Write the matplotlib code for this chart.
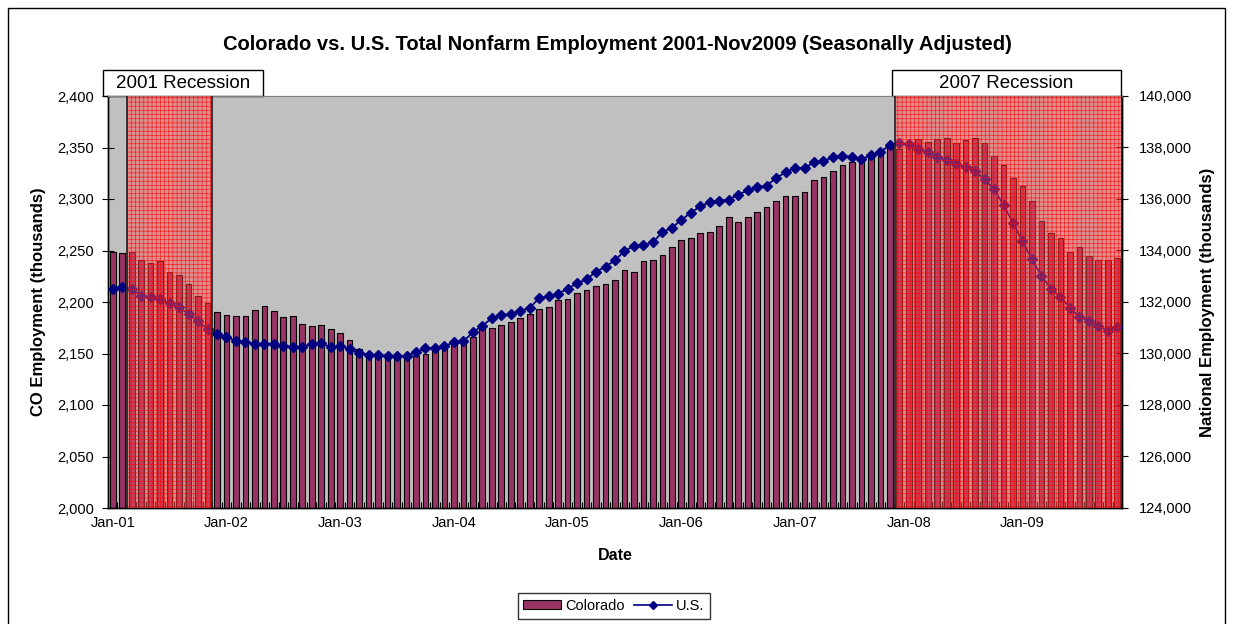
import numpy as np
import pandas as pd
import matplotlib
matplotlib.use("Agg")
import matplotlib.pyplot as plt
from matplotlib.patches import Rectangle, Patch
from matplotlib.lines import Line2D
from matplotlib.ticker import FuncFormatter, FixedLocator

plt.rcParams['font.family'] = ['Liberation Sans', 'DejaVu Sans']
plt.rcParams['hatch.linewidth'] = 0.5

# monthly data, Jan 2001 - Nov 2009 (thousands, seasonally adjusted)
months = pd.date_range('2001-01-01', periods=107, freq='MS')

co_emp = [
    2249, 2248, 2249, 2241, 2238, 2240, 2229, 2226, 2217, 2206, 2199, 2190,  # 2001
    2187, 2186, 2186, 2192, 2196, 2191, 2185, 2186, 2179, 2177, 2178, 2174,  # 2002
    2170, 2163, 2154, 2148, 2147, 2147, 2146, 2147, 2148, 2150, 2153, 2155,  # 2003
    2160, 2164, 2166, 2174, 2175, 2178, 2181, 2184, 2188, 2193, 2195, 2202,  # 2004
    2203, 2209, 2212, 2216, 2217, 2221, 2231, 2229, 2240, 2241, 2246, 2253,  # 2005
    2260, 2262, 2267, 2268, 2274, 2283, 2278, 2283, 2287, 2292, 2298, 2303,  # 2006
    2303, 2307, 2318, 2321, 2327, 2333, 2336, 2338, 2345, 2349, 2352, 2349,  # 2007
    2355, 2358, 2355, 2358, 2359, 2354, 2357, 2359, 2354, 2342, 2333, 2320,  # 2008
    2313, 2298, 2279, 2267, 2262, 2249, 2253, 2245, 2241, 2241, 2243,        # 2009
]

us_emp = [
    132493, 132571, 132517, 132233, 132194, 132128, 131950, 131794, 131534, 131250, 130960, 130744,
    130653, 130485, 130435, 130381, 130381, 130381, 130303, 130264, 130250, 130381, 130396, 130252,
    130291, 130186, 130010, 129950, 129930, 129920, 129900, 129900, 130050, 130200, 130210, 130290,
    130435, 130474, 130823, 131068, 131379, 131483, 131546, 131639, 131779, 132144, 132233, 132322,
    132517, 132726, 132882, 133177, 133371, 133619, 133981, 134175, 134214, 134318, 134718, 134886,
    135184, 135468, 135716, 135883, 135934, 135973, 136167, 136338, 136466, 136517, 136816, 137037,
    137216, 137204, 137425, 137476, 137631, 137682, 137631, 137542, 137697, 137837, 138085, 138163,
    138124, 137930, 137813, 137631, 137503, 137359, 137243, 137076, 136765, 136377, 135767, 135080,
    134369, 133658, 133010, 132517, 132206, 131779, 131429, 131274, 131068, 130885, 131029,
]

recession_names = ['2001 Recession', '2007 Recession']
recession_start = ['2001-03-01', '2007-12-01']
recession_end = ['2001-11-01', '2009-11-01']

W, H = 1233, 624
fig = plt.figure(figsize=(W / 100, H / 100), dpi=100)
fig.patch.set_facecolor('white')

# chart-area frame
fig.patches.append(Rectangle((8 / W, -0.1), 1217 / W, 1.1 - 8 / H, transform=fig.transFigure,
                             facecolor='none', edgecolor='black', linewidth=1.0))

ax = fig.add_axes([108 / W, 1 - 508 / H, 1014 / W, 412 / H])
ax.set_facecolor('#c0c0c0')
x = np.arange(len(months))

ax.bar(x, co_emp, width=0.6, color='#993366', edgecolor='black', linewidth=0.8, zorder=2)
ax.set_xlim(-0.5, len(months) - 0.5)
ax.set_ylim(2000, 2400)
ax.set_yticks(np.arange(2000, 2401, 50))
ax.yaxis.set_major_formatter(FuncFormatter(lambda v, p: f'{v:,.0f}'))

ax2 = ax.twinx()
ax2.plot(x, us_emp, color='#000080', marker='D', markersize=5, linewidth=1.3, zorder=3)
ax2.set_ylim(124000, 140000)
ax2.set_yticks(np.arange(124000, 140001, 2000))
ax2.yaxis.set_major_formatter(FuncFormatter(lambda v, p: f'{v:,.0f}'))

# x axis: month ticks, label every January
jan_idx = [i for i, m in enumerate(months) if m.month == 1]
ax.set_xticks(jan_idx)
ax.set_xticklabels([m.strftime('%b-%y') for m in months[jan_idx]])
ax.xaxis.set_minor_locator(FixedLocator(np.arange(-0.5, len(months), 1)))
ax.tick_params(axis='x', which='major', length=0, pad=6, labelsize=10.5)
ax.tick_params(axis='x', which='minor', direction='in', length=4, width=0.8)
ax.tick_params(axis='y', which='major', direction='inout', length=8, width=0.8, labelsize=10.5, pad=6)
ax2.tick_params(axis='y', which='major', direction='inout', length=8, width=0.8, labelsize=10.5, pad=8)

for a in (ax, ax2):
    a.spines['top'].set_color('#808080')
    for s in ('left', 'right', 'bottom'):
        a.spines[s].set_color('black')
        a.spines[s].set_linewidth(1.0)

# recession shading with cross-hatch
for name, s, e in zip(recession_names, recession_start, recession_end):
    i0 = months.get_loc(pd.Timestamp(s)) - 0.5
    i1 = months.get_loc(pd.Timestamp(e)) + 0.5
    ax2.axvspan(i0, i1, facecolor=(1.0, 0.33, 0.33, 0.45), edgecolor='none', zorder=5)
    ax2.axvspan(i0, i1, facecolor='none', edgecolor=(1.0, 0.0, 0.0, 0.75), hatch='++++',
                linewidth=0, zorder=6)
    ax2.axvline(i0, color='#202020', linewidth=1.2, zorder=7)
    ax2.axvline(i1, color='#202020', linewidth=1.2, zorder=7)

# label boxes sitting on top of the plot area
box_specs = [(-5 / 1014, 160 / 1014), (784 / 1014, 229 / 1014)]
for name, (bx, bw) in zip(recession_names, box_specs):
    ax.add_patch(Rectangle((bx, 1.0), bw, 26 / 412, transform=ax.transAxes, facecolor='white',
                           edgecolor='black', linewidth=1.0, clip_on=False, zorder=10))
    ax.text(bx + bw / 2, 1.0 + 13 / 412, name, transform=ax.transAxes, ha='center', va='center',
            fontsize=13.5, zorder=11, clip_on=False)

fig.text(617 / W, 1 - 44 / H, 'Colorado vs. U.S. Total Nonfarm Employment 2001-Nov2009 (Seasonally Adjusted)',
         ha='center', va='center', fontsize=14.5, fontweight='bold')
ax.set_xlabel('Date', fontsize=11.5, fontweight='bold', labelpad=13)
ax.set_ylabel('CO Employment (thousands)', fontsize=12, fontweight='bold', labelpad=8)
ax2.set_ylabel('National Employment (thousands)', fontsize=12, fontweight='bold', labelpad=6)

handles = [Patch(facecolor='#993366', edgecolor='black', linewidth=0.8),
           Line2D([], [], color='#000080', marker='D', markersize=4, linewidth=1.2)]
leg = fig.legend(handles, ['Colorado', 'U.S.'], loc='center', bbox_to_anchor=(614 / W, 1 - 606 / H),
                 ncol=2, fontsize=10.5, frameon=True, fancybox=False, edgecolor='black',
                 handlelength=2.6, handleheight=0.6, columnspacing=0.6, handletextpad=0.3,
                 borderpad=0.4)
leg.get_frame().set_linewidth(1.0)

fig.savefig('out.png', dpi=100)
